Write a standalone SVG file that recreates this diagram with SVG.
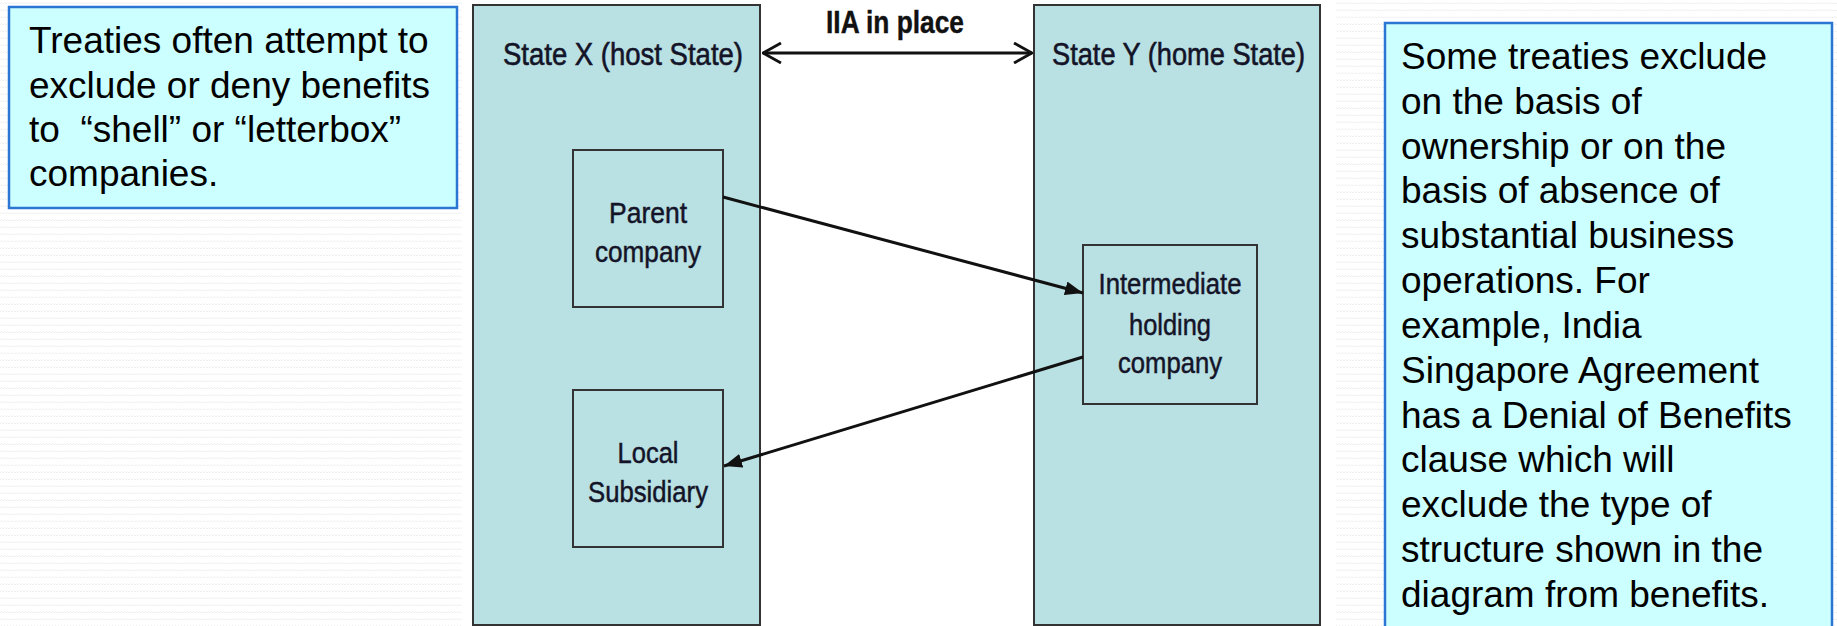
<svg xmlns="http://www.w3.org/2000/svg" width="1837" height="626" viewBox="0 0 1837 626">
  <style>
    .note { fill: #ccffff; stroke: #2a76d2; stroke-width: 2.5; }
    .note-text { font-family: "Liberation Sans", Arial, sans-serif; font-size: 37px; fill: #000; white-space: pre; }
    .state { fill: #b9e0e3; stroke: #333; stroke-width: 2; }
    .inner { fill: #b9e0e3; stroke: #333; stroke-width: 2; }
    .title { font-family: "Liberation Sans", Arial, sans-serif; font-size: 31px; fill: #141428; stroke: #141428; stroke-width: 0.6; }
    .label { font-family: "Liberation Sans", Arial, sans-serif; font-size: 30px; fill: #141428; stroke: #141428; stroke-width: 0.5; text-anchor: middle; }
    .iia { font-family: "Liberation Sans", Arial, sans-serif; font-size: 32px; font-weight: bold; fill: #111; stroke: #111; stroke-width: 0.4; }
    .conn { stroke: #111; stroke-width: 3; fill: none; }
  </style>
  <defs>
    <pattern id="bgpat" width="6" height="7" patternUnits="userSpaceOnUse">
      <rect width="6" height="7" fill="#ffffff"/>
      <path d="M0,4 L1.5,2.5 L3,4 L4.5,2.5 L6,4" stroke="#f0f0f0" stroke-width="1" fill="none"/>
    </pattern>
    <marker id="chev" viewBox="0 0 20 22" refX="19" refY="11" markerWidth="20" markerHeight="22" markerUnits="userSpaceOnUse" orient="auto-start-reverse">
      <path d="M1,1 L19,11 L1,21" fill="none" stroke="#111" stroke-width="2.8"/>
    </marker>
    <marker id="tri" viewBox="0 0 18 14" refX="18" refY="7" markerWidth="18" markerHeight="14" markerUnits="userSpaceOnUse" orient="auto">
      <path d="M0,0 L18,7 L0,14 Z" fill="#111"/>
    </marker>
  </defs>

  <rect x="0" y="0" width="1837" height="626" fill="url(#bgpat)"/>
  <rect x="462" y="0" width="874" height="626" fill="#ffffff"/>

  <g id="note-left">
    <rect class="note" x="9" y="7" width="448" height="201"/>
    <text class="note-text" x="29" y="53">Treaties often attempt to</text>
    <text class="note-text" x="29" y="98">exclude or deny benefits</text>
    <text class="note-text" x="29" y="142">to  “shell” or “letterbox”</text>
    <text class="note-text" x="29" y="186">companies.</text>
  </g>

  <g id="state-x">
    <rect class="state" x="473" y="5" width="287" height="620"/>
    <text class="title" x="503" y="65" textLength="240" lengthAdjust="spacingAndGlyphs">State X (host State)</text>
  </g>

  <g id="state-y">
    <rect class="state" x="1034" y="5" width="286" height="620"/>
    <text class="title" x="1052" y="65" textLength="253" lengthAdjust="spacingAndGlyphs">State Y (home State)</text>
  </g>

  <g id="parent-company">
    <rect class="inner" x="573" y="150" width="150" height="157"/>
    <text class="label" x="648" y="223" textLength="78" lengthAdjust="spacingAndGlyphs">Parent</text>
    <text class="label" x="648" y="262" textLength="106" lengthAdjust="spacingAndGlyphs">company</text>
  </g>

  <g id="local-subsidiary">
    <rect class="inner" x="573" y="390" width="150" height="157"/>
    <text class="label" x="648" y="463" textLength="61" lengthAdjust="spacingAndGlyphs">Local</text>
    <text class="label" x="648" y="502" textLength="120" lengthAdjust="spacingAndGlyphs">Subsidiary</text>
  </g>

  <g id="intermediate-holding">
    <rect class="inner" x="1083" y="245" width="174" height="159"/>
    <text class="label" x="1170" y="294" textLength="143" lengthAdjust="spacingAndGlyphs">Intermediate</text>
    <text class="label" x="1170" y="335" textLength="82" lengthAdjust="spacingAndGlyphs">holding</text>
    <text class="label" x="1170" y="373" textLength="104" lengthAdjust="spacingAndGlyphs">company</text>
  </g>

  <g id="iia-label">
    <text class="iia" x="826" y="33" textLength="138" lengthAdjust="spacingAndGlyphs">IIA in place</text>
  </g>

  <g id="connectors">
    <line class="conn" x1="763" y1="53" x2="1032" y2="53" marker-start="url(#chev)" marker-end="url(#chev)"/>
    <line class="conn" x1="723" y1="197" x2="1083" y2="293" marker-end="url(#tri)"/>
    <line class="conn" x1="1083" y1="357" x2="724" y2="466" marker-end="url(#tri)"/>
  </g>

  <g id="note-right">
    <rect class="note" x="1385" y="23" width="447" height="625"/>
    <text class="note-text" x="1401" y="69">Some treaties exclude</text>
    <text class="note-text" x="1401" y="114">on the basis of</text>
    <text class="note-text" x="1401" y="159">ownership or on the</text>
    <text class="note-text" x="1401" y="203">basis of absence of</text>
    <text class="note-text" x="1401" y="248">substantial business</text>
    <text class="note-text" x="1401" y="293">operations. For</text>
    <text class="note-text" x="1401" y="338">example, India</text>
    <text class="note-text" x="1401" y="383">Singapore Agreement</text>
    <text class="note-text" x="1401" y="428">has a Denial of Benefits</text>
    <text class="note-text" x="1401" y="472">clause which will</text>
    <text class="note-text" x="1401" y="517">exclude the type of</text>
    <text class="note-text" x="1401" y="562">structure shown in the</text>
    <text class="note-text" x="1401" y="607">diagram from benefits.</text>
  </g>
</svg>
